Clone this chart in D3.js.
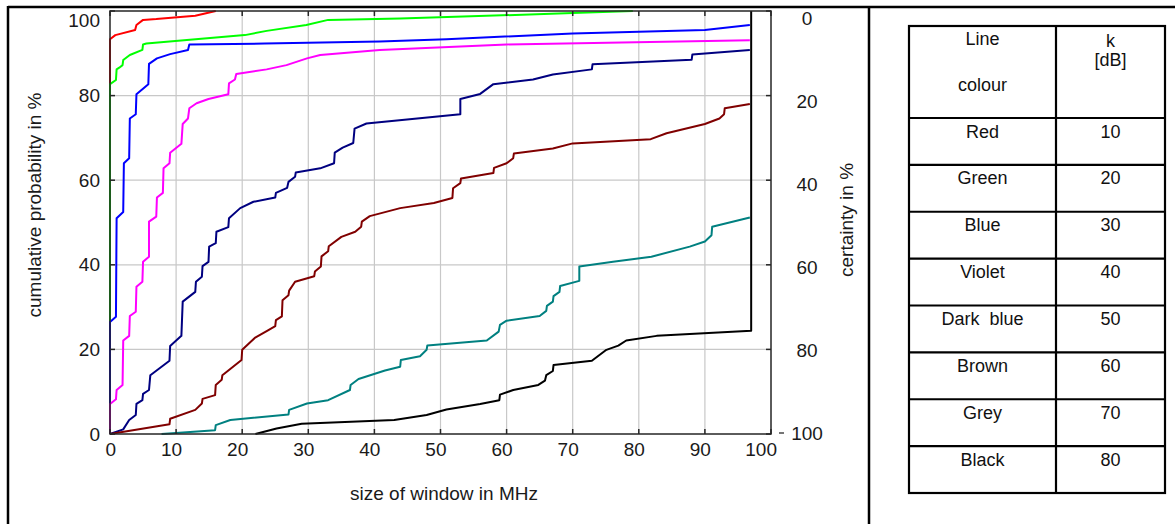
<!DOCTYPE html>
<html>
<head>
<meta charset="utf-8">
<script src="https://cdn.jsdelivr.net/npm/d3@7"></script>
<style>
  html, body { margin: 0; padding: 0; background: #ffffff; }
  svg { display: block; font-family: "Liberation Sans", Arial, sans-serif; }
</style>
</head>
<body>
<svg id="chart" width="1175" height="524"></svg>
<script>
// Cumulative distributions of window size, one curve per threshold k [dB]
const xTicks = [0, 10, 20, 30, 40, 50, 60, 70, 80, 90, 100];
const yTicks = [0, 20, 40, 60, 80, 100];
const certaintyTicks = [0, 20, 40, 60, 80, 100];

const redK10 = [[0,0],[0,93.3],[0.8,94.3],[3.8,95.5],[4.0,96.7],[5.0,97.9],[7.0,98.1],[12.9,98.9],[16,100]];
const greenK20 = [[0,0],[0,82.7],[0.9,83.7],[1.0,86.2],[1.4,86.6],[1.9,87.2],[2.0,88.4],[3.0,89.6],[4.9,90.8],[5.0,92.1],[5.5,92.3],[20.4,94.3],[23.7,95.3],[29.7,96.7],[33.0,97.9],[43.9,98.2],[70,99.5],[79.1,100]];
const blueK30 = [[0,0],[0,26.5],[0.9,27.7],[1.0,51],[2.0,52.5],[2.1,64],[2.9,65.2],[3.0,74.6],[3.9,75.6],[4.0,80.3],[5.8,82.7],[5.9,87.5],[7.1,88.8],[9.1,89.8],[11.8,90.8],[12.0,92.1],[23.4,92.3],[40.8,92.8],[50.9,93.3],[70,94.7],[90,95.5],[96.8,96.7]];
const violetK40 = [[0,0],[0,7.1],[0.9,8.2],[1.0,10.4],[1.9,11.6],[2.0,22.1],[2.9,23.2],[3.0,27.9],[3.9,28.9],[4.0,34.8],[4.9,36],[5.0,40.7],[5.9,41.9],[5.9,50.2],[7.0,51.4],[7.1,55.9],[8.0,57.0],[8.1,62.8],[9.0,64],[9.1,66.5],[10.8,68.6],[11.0,73.3],[11.8,74.6],[12.0,77],[13.1,78.2],[14.9,79.2],[17.9,80.3],[18.0,82.9],[18.9,83.8],[19.1,85.1],[23.7,86.2],[26.7,87.2],[29.8,88.8],[31.8,89.6],[40.8,90.8],[60,92.1],[96.8,93.1]];
const darkBlueK50 = [[0,0],[2.0,1.1],[2.9,3.3],[3.9,4.5],[4.0,7.1],[4.9,8.0],[5.0,9.5],[5.9,10.4],[6.1,13.9],[9.0,17.3],[9.1,20.8],[10.8,23.2],[11.0,31.3],[12.9,33.6],[13.0,36],[13.9,37.2],[14.0,39.7],[14.9,40.7],[15.0,44.3],[16,45.1],[16.1,47.8],[17.9,48.9],[18.0,51],[19.7,53.4],[21.7,54.9],[25,55.9],[25.1,57],[26.8,58.2],[27.0,59.6],[28,60.8],[28.1,61.8],[31.8,62.8],[33.9,64],[34.0,66.5],[35.2,67.7],[36.8,68.8],[37.0,72.2],[38.8,73.4],[53,75.6],[53.0,79.2],[56,80.4],[58,82.7],[64,83.8],[67,85.0],[72.9,86.2],[73,87.4],[88,88.5],[88.1,89.7],[96.8,90.8]];
const brownK60 = [[0,0],[9,2.3],[9.1,3.6],[12.9,5.7],[13.9,7.2],[14,8.3],[15.9,9.2],[16,11.6],[16.9,12.8],[17,13.9],[19.9,17.5],[20,19.9],[21.9,22.7],[23.9,24.5],[25,25.5],[25.1,26.9],[26,27.8],[26.1,31.6],[27,32.8],[27.1,33.9],[28,36],[30.9,37.3],[31,38.4],[31.9,39.6],[32,42],[33,43.2],[33.1,44.4],[35,46.6],[37.1,47.8],[38,49],[38.1,50.2],[39.3,51.5],[43.9,53.4],[49,54.6],[51.8,55.8],[51.9,58.1],[53,59.3],[53.1,60.4],[58,61.7],[58.1,62.9],[60,64],[61,65.2],[61.1,66.3],[67,67.5],[70,68.7],[81.8,69.7],[84.2,71.1],[90,73.3],[92.2,74.6],[92.9,75.6],[93,77],[96.8,78]];
const greyK70 = [[7.8,0],[15.9,0.9],[16,2.1],[18.2,3.3],[27,4.6],[27.1,5.7],[29.8,7.2],[33,8.0],[36.3,10.4],[36.4,11.6],[37.6,13],[41.6,15],[43.9,15.9],[44,17.5],[46.9,18.4],[47.9,19.9],[48,20.9],[57,22.1],[58.8,24.2],[59,25.8],[60,26.8],[65,27.9],[66,29.1],[66.1,30.3],[67,31.3],[67.1,32.6],[68,33.6],[68.1,35],[71,36.2],[71,39.6],[76.1,40.7],[81.9,41.9],[87.7,44.3],[90,45.5],[91,47],[91.1,49],[96.8,51.2]];
const blackK80 = [[22,0],[25.2,1.3],[29,2.4],[43,3.3],[47.9,4.5],[50.9,5.8],[56,7.1],[58.9,8.0],[59,9.3],[61,10.4],[64.8,11.6],[65.8,12.6],[66,13.9],[67,14.9],[67.1,16.3],[72.9,17.3],[75.1,19.9],[76.9,20.9],[78.1,22.1],[82.7,23.2],[97,24.4],[97,100]];

const colourNames = ["Red", "Green", "Blue", "Violet", "Dark  blue", "Brown", "Grey", "Black"];
const kValues = ["10", "20", "30", "40", "50", "60", "70", "80"];

const series = [
  { pts: redK10, color: "#ff0000" },
  { pts: greenK20, color: "#00ff00" },
  { pts: blueK30, color: "#0000ff" },
  { pts: violetK40, color: "#ff00ff" },
  { pts: darkBlueK50, color: "#000080" },
  { pts: brownK60, color: "#800000" },
  { pts: greyK70, color: "#008080" },
  { pts: blackK80, color: "#000000" }
];

const svg = d3.select("#chart");

// outer frame: top rule, left rule and the divider between figure and table
const frame = svg.append("g").attr("stroke", "#000").attr("stroke-width", 2.5);
frame.append("line").attr("x1", 8).attr("x2", 1175).attr("y1", 7).attr("y2", 7);
frame.append("line").attr("x1", 8).attr("x2", 8).attr("y1", 6).attr("y2", 524);
frame.append("line").attr("x1", 869).attr("x2", 869).attr("y1", 6).attr("y2", 524);

const x = d3.scaleLinear().domain([0, 100]).range([110, 771]);
const y = d3.scaleLinear().domain([0, 100]).range([434, 11]);
const yCert = d3.scaleLinear().domain([0, 100]).range([18, 433]);

// grid
const grid = svg.append("g").attr("stroke", "#c8c8c8").attr("stroke-width", 1.2);
grid.selectAll("line.gx").data(xTicks.slice(1, -1)).join("line")
  .attr("x1", d => x(d)).attr("x2", d => x(d)).attr("y1", y(0)).attr("y2", y(100));
grid.selectAll("line.gy").data(yTicks.slice(1, -1)).join("line")
  .attr("x1", x(0)).attr("x2", x(100)).attr("y1", d => y(d)).attr("y2", d => y(d));

// curves
const line = d3.line().x(d => x(d[0])).y(d => y(d[1]));
svg.append("g").selectAll("path").data(series).join("path")
  .attr("d", d => line(d.pts))
  .attr("fill", "none")
  .attr("stroke", d => d.color)
  .attr("stroke-width", 2)
  .attr("stroke-linejoin", "round");

// box with inward ticks
const box = svg.append("g").attr("stroke", "#262626").attr("stroke-width", 1.5).attr("fill", "none");
box.append("rect").attr("x", x(0)).attr("y", y(100)).attr("width", x(100) - x(0)).attr("height", y(0) - y(100));
const tl = 5;
box.selectAll("line.tb").data(xTicks).join("line")
  .attr("x1", d => x(d)).attr("x2", d => x(d)).attr("y1", y(0)).attr("y2", y(0) - tl);
box.selectAll("line.tt").data(xTicks).join("line")
  .attr("x1", d => x(d)).attr("x2", d => x(d)).attr("y1", y(100)).attr("y2", y(100) + tl);
box.selectAll("line.tl").data(yTicks).join("line")
  .attr("x1", x(0)).attr("x2", x(0) + tl).attr("y1", d => y(d)).attr("y2", d => y(d));
box.selectAll("line.tr").data(yTicks).join("line")
  .attr("x1", x(100)).attr("x2", x(100) - tl).attr("y1", d => y(d)).attr("y2", d => y(d));

const fs = "19px";

// bottom axis labels (right-aligned just past each tick)
const xAxis = svg.append("g").attr("transform", `translate(0,${y(0)})`)
  .call(d3.axisBottom(x).tickValues(xTicks).tickSize(0).tickPadding(9));
xAxis.select(".domain").remove();
xAxis.selectAll("text").attr("font-size", fs).attr("font-family", "Liberation Sans, Arial, sans-serif")
  .attr("fill", "#1a1a1a").attr("text-anchor", "end").attr("dx", 5.5);

// left axis labels; the top one sits inside the frame
const yAxis = svg.append("g").attr("transform", `translate(${x(0)},0)`)
  .call(d3.axisLeft(y).tickValues(yTicks).tickSize(0).tickPadding(10));
yAxis.select(".domain").remove();
yAxis.selectAll("text").attr("font-size", fs).attr("font-family", "Liberation Sans, Arial, sans-serif").attr("fill", "#1a1a1a");
yAxis.selectAll(".tick").filter(d => d === 100).select("text").attr("y", 9);

// right-hand certainty scale
const cert = svg.append("g");
cert.selectAll("text").data(certaintyTicks).join("text")
  .attr("x", 807).attr("y", d => yCert(d)).attr("dy", "0.35em")
  .attr("text-anchor", "middle").attr("font-size", fs).attr("fill", "#1a1a1a")
  .text(d => d);
cert.append("line")
  .attr("x1", 779).attr("x2", 784).attr("y1", yCert(100)).attr("y2", yCert(100))
  .attr("stroke", "#1a1a1a").attr("stroke-width", 1.2);

// axis titles
svg.append("text").attr("transform", "translate(41,205) rotate(-90)")
  .attr("text-anchor", "middle").attr("font-size", fs).attr("fill", "#1a1a1a")
  .text("cumulative probability in %");
svg.append("text").attr("x", 444).attr("y", 500)
  .attr("text-anchor", "middle").attr("font-size", fs).attr("fill", "#1a1a1a")
  .text("size of window in MHz");
svg.append("text").attr("transform", "translate(853,220) rotate(-90)")
  .attr("text-anchor", "middle").attr("font-size", fs).attr("fill", "#1a1a1a")
  .text("certainty in %");

// colour / threshold table
const tLeft = 909, tMid = 1056, tRight = 1165, tTop = 26, hBottom = 118, tBottom = 493;
const rows = d3.scaleBand().domain(d3.range(colourNames.length)).range([hBottom, tBottom]);
const tbl = svg.append("g").attr("font-size", "18px").attr("fill", "#111");
const tLines = tbl.append("g").attr("stroke", "#000").attr("stroke-width", 2.2).attr("fill", "none");
tLines.append("rect").attr("x", tLeft).attr("y", tTop).attr("width", tRight - tLeft).attr("height", tBottom - tTop);
tLines.append("line").attr("x1", tMid).attr("x2", tMid).attr("y1", tTop).attr("y2", tBottom);
tLines.selectAll("line.row").data(d3.range(colourNames.length)).join("line")
  .attr("x1", tLeft).attr("x2", tRight).attr("y1", d => rows(d)).attr("y2", d => rows(d));

const c1 = (tLeft + tMid) / 2, c2 = (tMid + tRight) / 2;
tbl.append("text").attr("x", c1).attr("y", 45).attr("text-anchor", "middle").text("Line");
tbl.append("text").attr("x", c1).attr("y", 91).attr("text-anchor", "middle").text("colour");
tbl.append("text").attr("x", c2).attr("y", 47).attr("text-anchor", "middle").text("k");
tbl.append("text").attr("x", c2).attr("y", 66).attr("text-anchor", "middle").text("[dB]");
tbl.selectAll("text.name").data(colourNames).join("text")
  .attr("x", c1).attr("y", (d, i) => rows(i) + 19.5).attr("text-anchor", "middle")
  .style("white-space", "pre").attr("xml:space", "preserve")
  .text(d => d);
tbl.selectAll("text.kval").data(kValues).join("text")
  .attr("x", c2).attr("y", (d, i) => rows(i) + 19.5).attr("text-anchor", "middle")
  .text(d => d);
</script>
</body>
</html>
